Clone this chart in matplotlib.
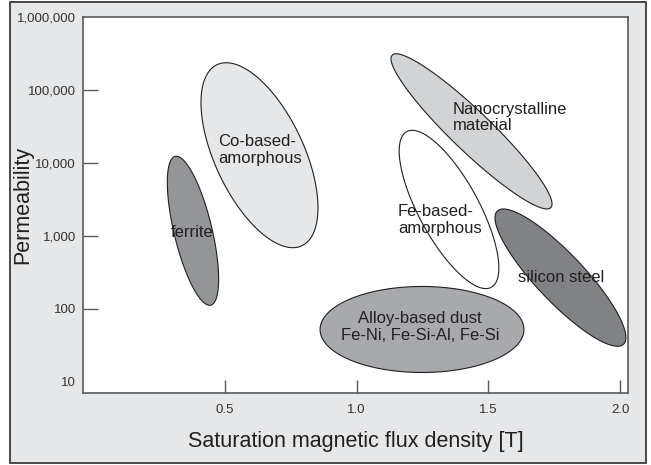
import numpy as np
import matplotlib
matplotlib.use("Agg")
import matplotlib.pyplot as plt
from matplotlib.patches import Rectangle

# Données : chaque matériau est une ellipse entre deux extrémités (B_sat [T], perméabilité)
materiaux = ["ferrite", "Co-based", "Nanocrystalline", "Fe-based", "silicon steel", "Alloy dust"]
b_debut = [0.311, 0.470, 1.135, 1.190, 1.534, 0.861]
mu_debut = [12300, 222000, 300000, 26800, 2190, 52]
b_fin = [0.446, 0.792, 1.737, 1.511, 2.013, 1.635]
mu_fin = [112, 731, 2440, 197, 32.6, 52]

# Étiquettes et leur position (B_sat, perméabilité)
etiquettes = ["ferrite", "Co-based-\namorphous", "Nanocrystalline\nmaterial",
              "Fe-based-\namorphous", "silicon steel", "Alloy-based dust\nFe-Ni, Fe-Si-Al, Fe-Si"]
etiq_b = [0.375, 0.473, 1.366, 1.157, 1.776, 1.240]
etiq_mu = [1100, 14900, 42000, 1650, 267, 55.6]
etiq_ha = ["center", "left", "left", "left", "center", "center"]

x_ticks = [0.5, 1.0, 1.5, 2.0]
x_tick_labels = ["0.5", "1.0", "1.5", "2.0"]
y_ticks = [10, 100, 1000, 10000, 100000, 1000000]
y_tick_labels = ["10", "100", "1,000", "10,000", "100,000", "1,000,000"]

# Style
demi_largeur = [19, 44.5, 20, 30, 24, 43]  # demi petit axe en pixels
couleurs = ["#939598", "#e6e7e8", "#d1d3d4", "#ffffff", "#808285", "#a7a9ac"]
fond = "#e6e7e8"
gris_axe = "#58595b"

plt.rcParams['font.family'] = ['Liberation Sans', 'DejaVu Sans']

fig = plt.figure(figsize=(6.51, 4.65), dpi=100)
fig.patch.set_facecolor("white")
cadre = Rectangle((10 / 651, 2 / 465), 636 / 651, 461 / 465, transform=fig.transFigure,
                  facecolor=fond, edgecolor="#3c3c3c", linewidth=1.3, zorder=-10)
fig.patches.append(cadre)

ax = fig.add_axes([83 / 651, 72 / 465, 545 / 651, 376 / 465])
ax.set_facecolor("white")
ax.set_yscale("log")
ax.set_xlim(-0.039, 2.03)
ax.set_ylim(7.0, 1e6)

# Ellipses : construites dans l'espace écran puis reconverties en données
t = np.linspace(0, 2 * np.pi, 300)
inv = ax.transData.inverted()
for i in range(len(materiaux)):
    p1 = ax.transData.transform((b_debut[i], mu_debut[i]))
    p2 = ax.transData.transform((b_fin[i], mu_fin[i]))
    centre = (p1 + p2) / 2
    d = (p2 - p1) / 2
    a = np.hypot(d[0], d[1])
    u = d / a
    v = np.array([-u[1], u[0]])
    pts = centre + np.outer(a * np.cos(t), u) + np.outer(demi_largeur[i] * np.sin(t), v)
    data = inv.transform(pts)
    ax.fill(data[:, 0], data[:, 1], facecolor=couleurs[i], edgecolor="#231f20", linewidth=0.8, zorder=2)

for i in range(len(etiquettes)):
    ax.text(etiq_b[i], etiq_mu[i], etiquettes[i], ha=etiq_ha[i], va="center",
            fontsize=12, color="#231f20", linespacing=1.15, zorder=3)

ax.set_xticks(x_ticks)
ax.set_xticklabels(x_tick_labels)
ax.set_yticks(y_ticks)
ax.set_yticklabels(y_tick_labels)
ax.minorticks_off()
ax.tick_params(axis="x", direction="in", length=9.5, width=1.0, color=gris_axe,
               labelsize=9.5, labelcolor="#333333", pad=8)
ax.tick_params(axis="y", direction="in", length=11, width=1.0, color=gris_axe,
               labelsize=9.5, labelcolor="#333333", pad=5)
ax.yaxis.get_major_ticks()[0].tick1line.set_visible(False)
ax.yaxis.get_major_ticks()[-1].tick1line.set_visible(False)
for s in ax.spines.values():
    s.set_color(gris_axe)
    s.set_linewidth(1.2)

ax.set_xlabel("Saturation magnetic flux density [T]", fontsize=15.5, color="#231f20")
ax.xaxis.set_label_coords(0.5, -0.1)
ax.set_ylabel("Permeability", fontsize=15.5, color="#231f20")
ax.yaxis.set_label_coords(-0.092, 0.5)

plt.savefig("out.png", dpi=100)
